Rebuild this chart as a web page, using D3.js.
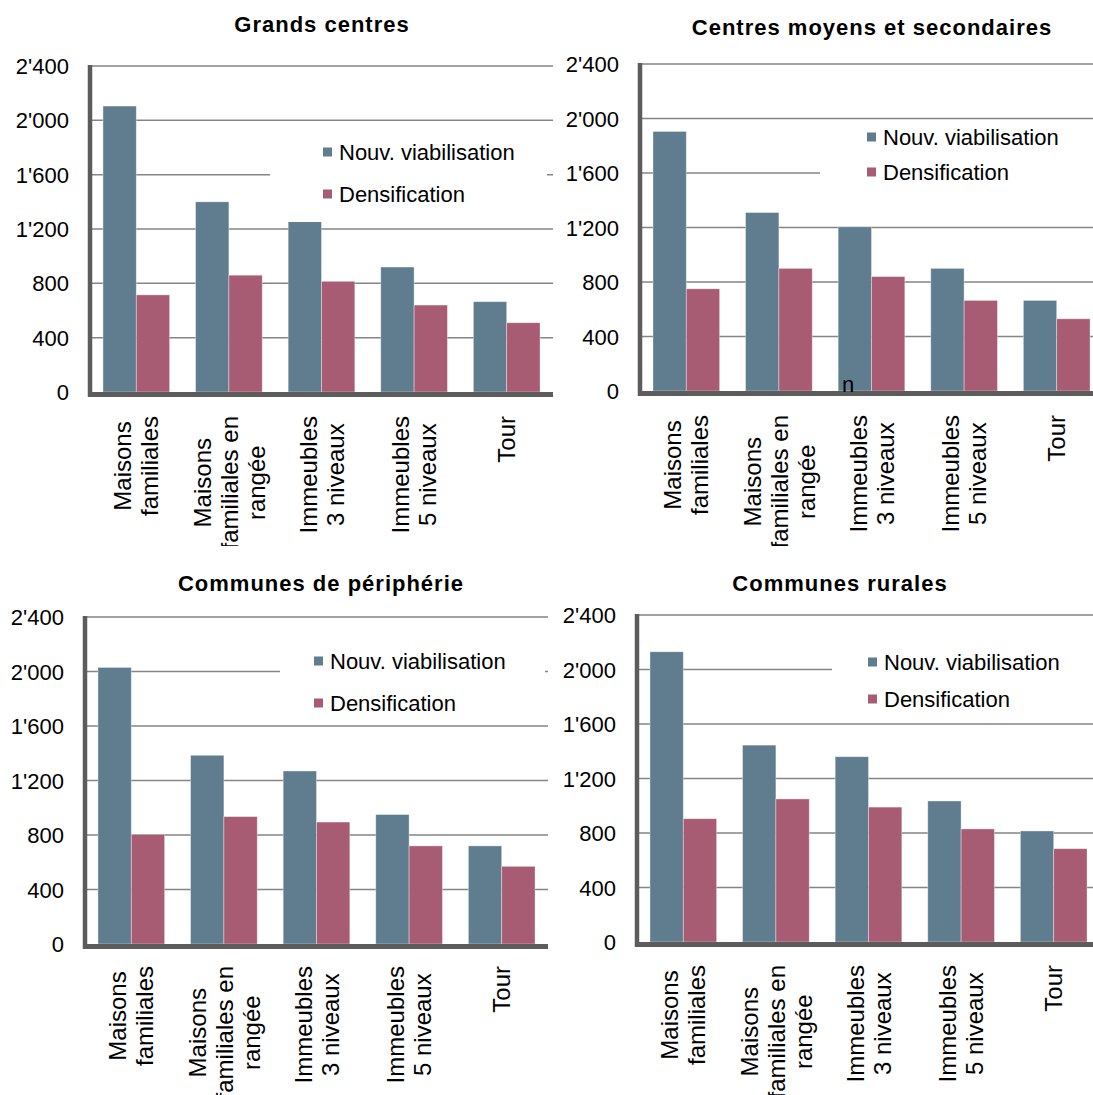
<!DOCTYPE html>
<html><head><meta charset="utf-8">
<script src="https://cdn.jsdelivr.net/npm/d3@7"></script>
<style>
html,body{margin:0;padding:0;background:#fff;}
svg{display:block;}
text{font-family:"Liberation Sans",Arial,Helvetica,sans-serif;fill:#000;}
</style></head>
<body>
<script>
// ---- data ----
const categories = [["Maisons","familiales"],["Maisons","familiales en","rangée"],["Immeubles","3 niveaux"],["Immeubles","5 niveaux"],["Tour"]];
const seriesNames = ["Nouv. viabilisation","Densification"];
const yTicks = [0,400,800,1200,1600,2000,2400];
const panelTitles = ["Grands centres","Centres moyens et secondaires","Communes de périphérie","Communes rurales"];
const grandsNouv = [2105,1400,1285,920,665];
const grandsDens = [715,860,815,640,510];
const moyensNouv = [1905,1310,1205,900,665];
const moyensDens = [750,900,840,665,530];
const periphNouv = [2030,1385,1270,950,720];
const periphDens = [805,935,895,720,570];
const ruralNouv = [2130,1445,1360,1035,815];
const ruralDens = [905,1050,990,830,685];
const panelData = [[grandsNouv,grandsDens],[moyensNouv,moyensDens],[periphNouv,periphDens],[ruralNouv,ruralDens]];

// ---- layout ----
const colors = ["#607d8f","#a85c73"];
const layouts = [
  {ax:90,  right:553,  yTop:66,  y0:392, tx:322, ty:32, lb:[270,128,547,222], lsx:323, ly:[152,194], labTop:416, clip:546},
  {ax:640, right:1103, yTop:64,  y0:391, tx:872, ty:35, lb:[820,123,1100,205], lsx:867, ly:[137,172], labTop:415, clip:546},
  {ax:85,  right:548,  yTop:617, y0:944, tx:321, ty:591, lb:[280,640,545,722], lsx:314, ly:[661,703], labTop:966, clip:1095},
  {ax:637, right:1100, yTop:615, y0:942, tx:840, ty:591, lb:[832,640,1100,718], lsx:868, ly:[662,699], labTop:965, clip:1095}
];
const FS = 22, LFS = 24;
const fmt = v => { const s = String(v); return s.length > 3 ? s.slice(0, s.length-3) + "'" + s.slice(-3) : s; };

const svg = d3.select("body").append("svg").attr("width",1093).attr("height",1095);
const defs = svg.append("defs");

layouts.forEach((L, pi) => {
  const g = svg.append("g");
  const y = d3.scaleLinear().domain([0,2400]).range([L.y0, L.yTop]);
  const x0 = d3.scaleBand().domain(d3.range(categories.length)).range([L.ax, L.right]).paddingInner(0.28).paddingOuter(0.14);
  const x1 = d3.scaleBand().domain([0,1]).range([0, x0.bandwidth()]);

  // title
  g.append("text").attr("x", L.tx).attr("y", L.ty).attr("text-anchor","middle")
    .attr("font-size", FS).attr("font-weight","bold").attr("letter-spacing", 1)
    .text(panelTitles[pi]);

  // gridlines
  g.append("g").selectAll("line").data(yTicks.filter(t => t > 0)).join("line")
    .attr("x1", L.ax).attr("x2", L.right).attr("y1", d => y(d)).attr("y2", d => y(d))
    .attr("stroke","#858585").attr("stroke-width",1.5);

  // y tick labels
  g.append("g").selectAll("text").data(yTicks).join("text")
    .attr("x", L.ax - 21).attr("y", d => y(d)).attr("dy","0.37em")
    .attr("text-anchor","end").attr("font-size", FS).text(fmt);

  // bars
  const data = panelData[pi];
  const grp = g.append("g").selectAll("g").data(categories.map((c,i)=>i)).join("g")
    .attr("transform", i => `translate(${x0(i)},0)`);
  grp.selectAll("rect").data(i => data.map((s,si)=>({si, v:s[i]}))).join("rect")
    .attr("x", d => x1(d.si)).attr("width", x1.bandwidth())
    .attr("y", d => y(d.v)).attr("height", d => y(0) - y(d.v))
    .attr("fill", d => colors[d.si]).attr("stroke","rgba(255,255,255,0.45)").attr("stroke-width",0.8);

  // legend (white box)
  const lb = L.lb;
  const lg = g.append("g");
  lg.append("rect").attr("x", lb[0]).attr("y", lb[1]).attr("width", lb[2]-lb[0]).attr("height", lb[3]-lb[1]).attr("fill","#fff");
  seriesNames.forEach((n, si) => {
    lg.append("rect").attr("x", L.lsx).attr("y", L.ly[si]-4.5).attr("width",9).attr("height",9).attr("fill", colors[si]);
    lg.append("text").attr("x", L.lsx + 16).attr("y", L.ly[si]).attr("dy","0.36em").attr("font-size", FS).text(n);
  });

  // axes
  g.append("line").attr("x1", L.ax).attr("x2", L.ax).attr("y1", L.yTop - 1).attr("y2", L.y0 + 5)
    .attr("stroke","#5c5c5c").attr("stroke-width",4.5);
  g.append("line").attr("x1", L.ax - 2).attr("x2", L.right).attr("y1", L.y0 + 2.5).attr("y2", L.y0 + 2.5)
    .attr("stroke","#5c5c5c").attr("stroke-width",5);

  // category labels (rotated, multi-line, clipped)
  const cid = "clip" + pi;
  defs.append("clipPath").attr("id", cid).append("rect")
    .attr("x", L.ax - 40).attr("y", L.y0 + 8).attr("width", L.right - L.ax + 60).attr("height", L.clip - L.y0 - 8);
  const lab = g.append("g").attr("clip-path", `url(#${cid})`);
  categories.forEach((lines, i) => {
    const cx = x0(i) + x0.bandwidth()/2;
    const tg = lab.append("g");
    const texts = lines.map((ln, li) => tg.append("text").attr("font-size", LFS).attr("text-anchor","middle").text(ln));
    const maxLen = d3.max(texts, t => t.node().getComputedTextLength());
    const n = lines.length, lh = 27;
    tg.attr("transform", `translate(${cx},${L.labTop + maxLen/2}) rotate(-90)`);
    texts.forEach((t, li) => t.attr("x", 0).attr("y", (li - (n-1)/2)*lh + 0.36*LFS));
  });
});

// stray glyph visible in the reference (top-right panel)
svg.append("text").attr("x", 842).attr("y", 392).attr("font-size", FS).text("n");
</script>
</body></html>
